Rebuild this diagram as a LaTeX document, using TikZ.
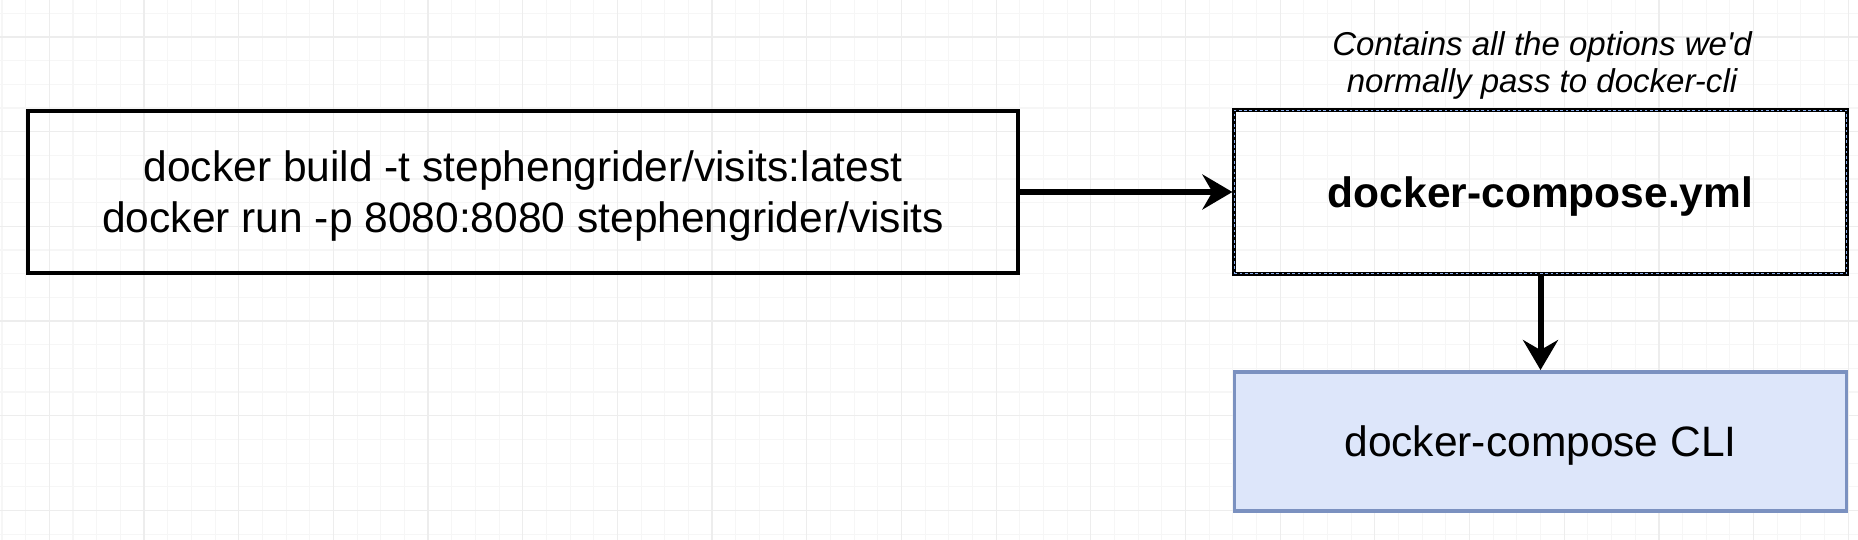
\documentclass[tikz,border=0pt]{standalone}
\usepackage{fontspec}
\setmainfont{Liberation Sans}
\usetikzlibrary{arrows.meta}
\definecolor{gridminor}{HTML}{F6F6F6}
\definecolor{gridmajor}{HTML}{EDEDED}
\definecolor{clifill}{HTML}{DDE6FA}
\definecolor{cliline}{HTML}{7B91C0}
\definecolor{selblue}{HTML}{8FB2F2}
\newcommand{\bigtext}{\fontsize{24.2pt}{29pt}\selectfont}
\newcommand{\notetext}{\fontsize{18.8pt}{20.9pt}\selectfont\itshape}

\begin{document}
\begin{tikzpicture}[x=0.02cm, y=-0.02cm,
  box/.style={draw, rectangle, inner sep=0pt, text depth=0pt, align=center, font=\bigtext},
  flow/.style={-{Stealth[length=0.6cm, width=0.7cm, inset=0.2cm]}, line width=3.4pt}]
 \fill[white] (0,0) rectangle (1858,540);
 \useasboundingbox (0,0) rectangle (1858,540);

 % background grid
 \foreach \k in {0,...,78}
   \draw[gridminor, line width=0.6pt] ({2+23.67*\k},0) -- ({2+23.67*\k},540);
 \foreach \k in {0,...,22}
   \draw[gridminor, line width=0.6pt] (0,{13.3+23.67*\k}) -- (1858,{13.3+23.67*\k});
 \foreach \k in {2,6,...,78}
   \draw[gridmajor, line width=0.7pt] ({2+23.67*\k},0) -- ({2+23.67*\k},540);
 \foreach \k in {1,5,...,21}
   \draw[gridmajor, line width=0.7pt] (0,{13.3+23.67*\k}) -- (1858,{13.3+23.67*\k});

 \node[box, line width=2.3pt, minimum width=19.8cm, minimum height=3.24cm] (cmds) at (523,192)
   {docker build -t stephengrider/visits:latest\\docker run -p 8080:8080 stephengrider/visits};
 \node[box, line width=2.2pt, minimum width=12.25cm, minimum height=3.27cm, font=\bigtext\bfseries,
   postaction={draw=selblue, line width=0.6pt, dash pattern=on 1.5pt off 1.5pt}] (yml) at (1540.5,192)
   {docker-compose.yml};
 \node[box, draw=cliline, fill=clifill, line width=2pt, minimum width=12.25cm, minimum height=2.78cm]
   (cli) at (1540.5,441.3) {docker-compose CLI};
 \node[font=\notetext, align=center, inner sep=0pt, text depth=0pt] (note) at (1542,62)
   {Contains all the options we\textquotesingle d\\normally pass to docker-cli};

 \path[flow] (cmds) edge (yml);
 \path[flow] (yml)  edge (cli);
\end{tikzpicture}
\end{document}
